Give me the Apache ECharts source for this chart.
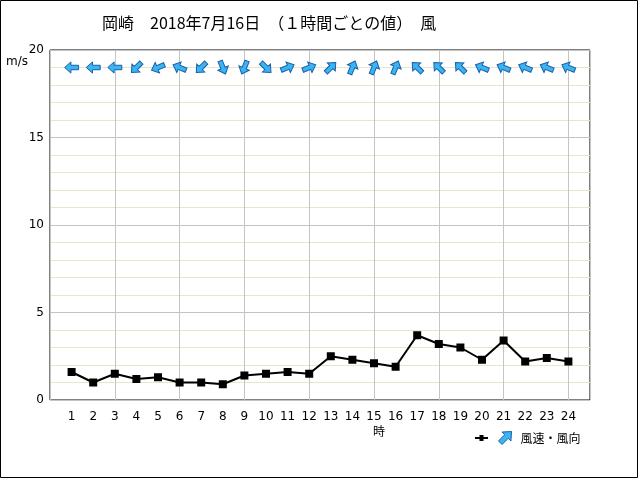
<!DOCTYPE html>
<html>
<head>
<meta charset="utf-8">
<script src="https://cdn.jsdelivr.net/npm/echarts@6/dist/echarts.min.js"></script>
<style>
html, body { margin: 0; padding: 0; background: #fff; }
#chart { width: 640px; height: 480px; }
</style>
</head>
<body>
<div id="chart"></div>
<script>
// data
var hours = [1, 2, 3, 4, 5, 6, 7, 8, 9, 10, 11, 12, 13, 14, 15, 16, 17, 18, 19, 20, 21, 22, 23, 24];
var windSpeed = [1.6, 1.0, 1.5, 1.2, 1.3, 1.0, 1.0, 0.9, 1.4, 1.5, 1.6, 1.5,
                 2.5, 2.3, 2.1, 1.9, 3.7, 3.2, 3.0, 2.3, 3.4, 2.2, 2.4, 2.2];
// wind direction (where the wind blows from)
var windDir = ['東', '東', '東', '北東', '東北東', '東南東', '北東', '北北西', '北北東', '北西', '西南西', '西南西',
               '南西', '南南西', '南南西', '南南西', '南東', '南東', '南東', '東南東', '東南東', '東南東', '東南東', '東南東'];
var yTicks = [0, 5, 10, 15, 20];
var arrowRow = 19;

var compass = ['北', '北北東', '北東', '東北東', '東', '東南東', '南東', '南南東',
               '南', '南南西', '南西', '西南西', '西', '西北西', '北西', '北北西'];

// block arrow pointing up, rotated clockwise by deg (screen coords) for the legend icon
var arrowPts = [[0, -10], [8, -1], [3.2, -1], [3.2, 10], [-3.2, 10], [-3.2, -1], [-8, -1]];
function arrowPath(deg) {
  var a = deg * Math.PI / 180, c = Math.cos(a), s = Math.sin(a);
  return 'path://' + arrowPts.map(function (p, i) {
    var x = p[0] * c - p[1] * s, y = p[0] * s + p[1] * c;
    return (i ? 'L' : 'M') + x.toFixed(2) + ',' + y.toFixed(2);
  }).join(' ') + ' Z';
}
var lineIcon = 'path://M0,3 L4.5,3 L4.5,1 L8.5,1 L8.5,3 L13,3 L13,5 L8.5,5 L8.5,7 L4.5,7 L4.5,5 L0,5 Z';

var lineData = hours.map(function (h, i) { return [h, windSpeed[i]]; });
var arrowData = hours.map(function (h, i) {
  var from = compass.indexOf(windDir[i]) * 22.5;
  var to = (from + 180) % 360;
  return { value: [h, arrowRow], symbolRotate: -to };
});

var dom = document.getElementById('chart');
var myChart = echarts.init(dom);
var jpFont = 'Noto Sans CJK JP, sans-serif';

var option = {
  animation: false,
  backgroundColor: '#fff',
  textStyle: { fontFamily: 'DejaVu Sans, sans-serif' },
  title: {
    text: '岡崎　2018年7月16日　（１時間ごとの値）　風',
    left: 97,
    top: 10,
    textStyle: { fontSize: 16, fontWeight: 'normal', color: '#000', fontFamily: jpFont }
  },
  legend: {
    left: 470,
    top: 426,
    itemWidth: 13,
    itemHeight: 13,
    itemGap: 10,
    selectedMode: false,
    data: [
      { name: '風速', icon: lineIcon, itemStyle: { color: '#000', borderWidth: 0 } },
      { name: '風向', icon: arrowPath(45), itemStyle: { color: '#3ab4f2', borderColor: '#1a5fa8', borderWidth: 1 },
        textStyle: { padding: [0, 0, 0, 4] } }
    ],
    formatter: function (name) { return name === '風速' ? '' : '風速・風向'; },
    textStyle: { fontSize: 12, color: '#000', fontFamily: jpFont }
  },
  grid: {
    left: 50,
    right: 50,
    top: 50,
    bottom: 80,
    show: true,
    borderColor: '#000',
    borderWidth: 1,
    backgroundColor: '#fff'
  },
  xAxis: [{
    type: 'value',
    min: 0,
    max: 25,
    interval: 1,
    axisLine: { show: false },
    axisTick: { show: false },
    splitLine: { show: false },
    axisLabel: {
      fontSize: 12,
      color: '#000',
      margin: 11,
      formatter: function (v) { return (v >= 1 && v <= 24) ? String(v) : ''; }
    }
  }, {
    type: 'value',
    position: 'bottom',
    min: 0,
    max: 25,
    interval: 3,
    axisLine: { show: false },
    axisTick: { show: false },
    axisLabel: { show: false },
    splitLine: { show: true, lineStyle: { color: '#c4c4c4', width: 1 } }
  }],
  yAxis: {
    type: 'value',
    min: 0,
    max: 20,
    interval: 5,
    name: 'm/s',
    nameLocation: 'end',
    nameGap: -12,
    nameTextStyle: { color: '#000', fontSize: 12, align: 'right', verticalAlign: 'middle', padding: [0, 22, 0, 0] },
    axisLine: { show: false },
    axisTick: { show: false },
    axisLabel: {
      fontSize: 12,
      color: '#000',
      margin: 6,
      formatter: function (v) { return yTicks.indexOf(v) >= 0 ? String(v) : ''; }
    },
    splitLine: { show: true, lineStyle: { color: '#c4c4c4', width: 1 } },
    minorTick: { show: false, splitNumber: 5 },
    minorSplitLine: { show: true, lineStyle: { color: '#ece4c8', width: 1 } }
  },
  graphic: [
    {
      type: 'text',
      left: 373,
      top: 425,
      style: { text: '時', fontSize: 12, fill: '#000', fontFamily: jpFont }
    },
    {
      type: 'rect',
      shape: { x: 0.5, y: 0.5, width: 637, height: 477 },
      style: { fill: 'none', stroke: '#000', lineWidth: 1 },
      silent: true
    }
  ],
  series: [{
    name: '風速',
    type: 'line',
    xAxisIndex: 0,
    data: lineData,
    symbol: 'rect',
    symbolSize: 8,
    itemStyle: { color: '#000' },
    lineStyle: { color: '#000', width: 2 },
    z: 3
  }, {
    name: '風向',
    type: 'scatter',
    xAxisIndex: 0,
    data: arrowData,
    symbol: arrowPath(0),
    symbolSize: 14,
    symbolKeepAspect: true,
    itemStyle: { color: '#3ab4f2', borderColor: '#1a5fa8', borderWidth: 1, opacity: 1 },
    z: 4
  }]
};

if (option && typeof option === 'object') {
  myChart.setOption(option, true);
}
window.addEventListener('resize', function () { myChart.resize(); });
</script>
</body>
</html>
